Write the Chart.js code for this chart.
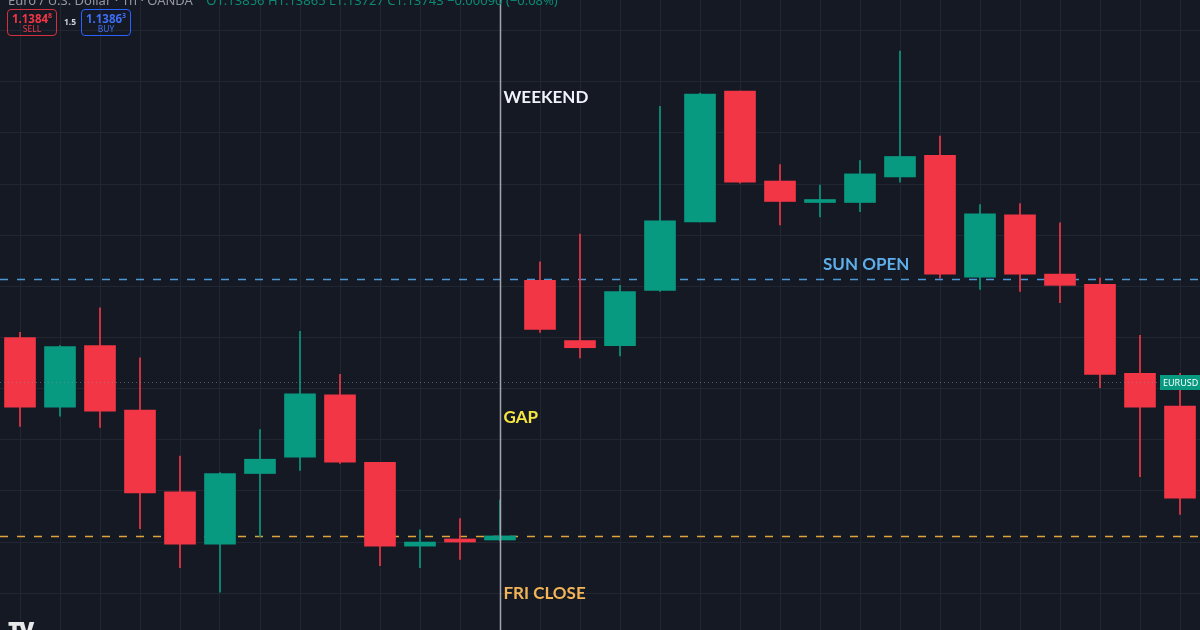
<!DOCTYPE html>
<html>
<head>
<meta charset="utf-8">
<script src="https://cdn.jsdelivr.net/npm/chart.js@4.4.1/dist/chart.umd.min.js"></script>
<style>
  html, body { margin: 0; padding: 0; background: #151924; }
  #wrap { position: relative; width: 1200px; height: 630px; overflow: hidden; background: #151924; font-family: "Noto Sans", Arial, sans-serif; }
  #c { position: absolute; left: 0; top: 0; }
  .hdr { position: absolute; left: 8px; top: -9px; font-size: 13px; color: #9598a1; white-space: nowrap; }
  .hdr .vals { color: #0b8a74; margin-left: 10px; }
  .box { position: absolute; top: 9px; width: 48px; height: 25px; border: 1px solid; border-radius: 4px; text-align: center; line-height: 1; }
  .box .p { font-size: 11.5px; font-weight: bold; margin-top: 2px; }
  .box .p sup { font-size: 7px; }
  .box .t { font-size: 8.5px; margin-top: 1px; }
  .sell { left: 7px; border-color: #d6303f; color: #f23645; }
  .buy { left: 81px; border-color: #2962ff; color: #3d6ef5; }
  .spread { position: absolute; left: 64px; top: 16px; font-size: 8.5px; font-weight: bold; color: #d1d4dc; }
  .logo { position: absolute; left: 8px; top: 614px; font-size: 22px; font-weight: 900; color: #e8e8e8; letter-spacing: -2px; }
</style>
</head>
<body>
<div id="wrap">
  <canvas id="c" width="1200" height="630"></canvas>
  <div class="hdr">Euro / U.S. Dollar · 1h · OANDA <span class="vals">O1.13856 H1.13865 L1.13727 C1.13743 −0.00090 (−0.08%)</span></div>
  <div class="box sell"><div class="p">1.1384<sup>8</sup></div><div class="t">SELL</div></div>
  <div class="spread">1.5</div>
  <div class="box buy"><div class="p">1.1386<sup>3</sup></div><div class="t">BUY</div></div>
  <div class="logo">TV</div>
</div>
<script>
// hourly candles, Friday session then Sunday open
var times = ['Fri 09:00','Fri 10:00','Fri 11:00','Fri 12:00','Fri 13:00','Fri 14:00','Fri 15:00',
             'Fri 16:00','Fri 17:00','Fri 18:00','Fri 19:00','Fri 20:00','Fri 21:00',
             'Sun 21:00','Sun 22:00','Sun 23:00','Mon 00:00','Mon 01:00','Mon 02:00','Mon 03:00',
             'Mon 04:00','Mon 05:00','Mon 06:00','Mon 07:00','Mon 08:00','Mon 09:00','Mon 10:00',
             'Mon 11:00','Mon 12:00','Mon 13:00'];
var opens  = [1.13900,1.13832,1.13892,1.13829,1.13749,1.13698,1.13767,1.13783,1.13844,1.13778,1.13696,1.13703,1.13702,
              1.13956,1.13897,1.13892,1.13946,1.14013,1.14141,1.14053,1.14032,1.14032,1.14057,1.14078,1.13959,1.14020,1.13962,1.13952,1.13865,1.13833];
var highs  = [1.13905,1.13892,1.13929,1.13880,1.13784,1.13768,1.13810,1.13906,1.13864,1.13778,1.13712,1.13723,1.13741,
              1.13974,1.14001,1.13951,1.14126,1.14139,1.14141,1.14069,1.14049,1.14073,1.14180,1.14097,1.14030,1.14031,1.14012,1.13958,1.13902,1.13865];
var lows   = [1.13813,1.13823,1.13812,1.13713,1.13675,1.13651,1.13705,1.13770,1.13777,1.13677,1.13675,1.13683,1.13701,
              1.13905,1.13880,1.13882,1.13945,1.14013,1.14051,1.14010,1.14018,1.14023,1.14052,1.13958,1.13947,1.13945,1.13934,1.13851,1.13764,1.13727];
var closes = [1.13832,1.13891,1.13828,1.13748,1.13698,1.13767,1.13781,1.13845,1.13778,1.13696,1.13700,1.13700,1.13706,
              1.13908,1.13890,1.13945,1.14014,1.14138,1.14052,1.14033,1.14033,1.14060,1.14077,1.13962,1.14021,1.13962,1.13951,1.13864,1.13832,1.13743];

var friClose = 1.13706;
var sunOpen = 1.13957;
var lastPrice = 1.13856;
var sessionBreak = 12;
var gridPrices = [1.1365,1.1370,1.1375,1.1380,1.1385,1.1390,1.1395,1.1400,1.1405,1.1410,1.1415,1.1420];

var UP = '#089981', DOWN = '#f23645';
var colors = opens.map(function (o, i) { return closes[i] >= o ? UP : DOWN; });
var bodies = opens.map(function (o, i) { return [o, closes[i]]; });
var wicks = lows.map(function (l, i) { return [l, highs[i]]; });

function hline(ctx, area, y, color, width, dash) {
  ctx.save();
  ctx.strokeStyle = color;
  ctx.lineWidth = width;
  ctx.setLineDash(dash);
  ctx.beginPath();
  ctx.moveTo(area.left, y);
  ctx.lineTo(area.right, y);
  ctx.stroke();
  ctx.restore();
}

function label(ctx, text, x, y, color) {
  ctx.save();
  ctx.font = 'bold 17px Lato, "Noto Sans", sans-serif';
  ctx.fillStyle = color;
  ctx.textAlign = 'left';
  ctx.textBaseline = 'middle';
  ctx.fillText(text, x, y);
  ctx.restore();
}

var overlay = {
  id: 'overlay',
  beforeDatasetsDraw(chart) {
    var ctx = chart.ctx, a = chart.chartArea, y = chart.scales.y;
    hline(ctx, a, Math.round(y.getPixelForValue(friClose)) + 0.5, '#e0a43c', 1.6, [8, 9]);
    hline(ctx, a, Math.round(y.getPixelForValue(sunOpen)) + 0.5, '#4d97d6', 1.6, [8, 9]);
  },
  afterDatasetsDraw(chart) {
    var ctx = chart.ctx, a = chart.chartArea, x = chart.scales.x, y = chart.scales.y;
    // current price
    var py = Math.round(y.getPixelForValue(lastPrice)) + 0.5;
    ctx.save();
    ctx.strokeStyle = 'rgba(140,144,155,0.55)';
    ctx.lineWidth = 1;
    ctx.setLineDash([1, 3]);
    ctx.beginPath();
    ctx.moveTo(a.left, py);
    ctx.lineTo(a.right - 40, py);
    ctx.stroke();
    ctx.restore();
    // session break
    var sx = Math.round(x.getPixelForValue(sessionBreak)) + 0.5;
    ctx.save();
    ctx.strokeStyle = '#a3a6ae';
    ctx.lineWidth = 1.5;
    ctx.beginPath();
    ctx.moveTo(sx, a.top);
    ctx.lineTo(sx, a.bottom);
    ctx.stroke();
    ctx.restore();
    // annotations
    label(ctx, 'WEEKEND', sx + 3, y.getPixelForValue(1.14135), '#f0f3fa');
    label(ctx, 'GAP', sx + 3, y.getPixelForValue(1.13822), '#f7e640');
    label(ctx, 'FRI CLOSE', sx + 3, y.getPixelForValue(1.13650), '#f2b457');
    label(ctx, 'SUN OPEN', x.getPixelForValue(20) + 3, y.getPixelForValue(1.13971), '#5eaeea');
    // symbol tag
    ctx.save();
    ctx.fillStyle = '#089981';
    ctx.fillRect(a.right - 40, py - 7.5, 40, 15);
    ctx.fillStyle = '#ffffff';
    ctx.font = '9px "Noto Sans", sans-serif';
    ctx.textAlign = 'left';
    ctx.textBaseline = 'middle';
    ctx.fillText('EURUSD', a.right - 37, py + 0.5);
    ctx.restore();
  }
};

new Chart(document.getElementById('c'), {
  type: 'bar',
  data: {
    labels: times,
    datasets: [
      { label: 'wick', data: wicks, backgroundColor: colors, barThickness: 1, grouped: false, order: 2 },
      { label: 'body', data: bodies, backgroundColor: colors, barThickness: 31, minBarLength: 3, grouped: false, order: 1 }
    ]
  },
  options: {
    responsive: false,
    animation: false,
    layout: { padding: 0 },
    plugins: { legend: { display: false }, tooltip: { enabled: false } },
    scales: {
      x: {
        offset: true,
        grid: { color: '#222632', offset: false, drawTicks: false },
        border: { display: false },
        ticks: { display: false },
        afterFit(s) { s.height = 0; }
      },
      y: {
        min: 1.13614,
        max: 1.14230,
        grid: { color: '#222632', drawTicks: false },
        border: { display: false },
        ticks: { display: false },
        afterBuildTicks(s) { s.ticks = gridPrices.map(function (v) { return { value: v }; }); },
        afterFit(s) { s.width = 0; }
      }
    }
  },
  plugins: [overlay]
});
</script>
</body>
</html>
